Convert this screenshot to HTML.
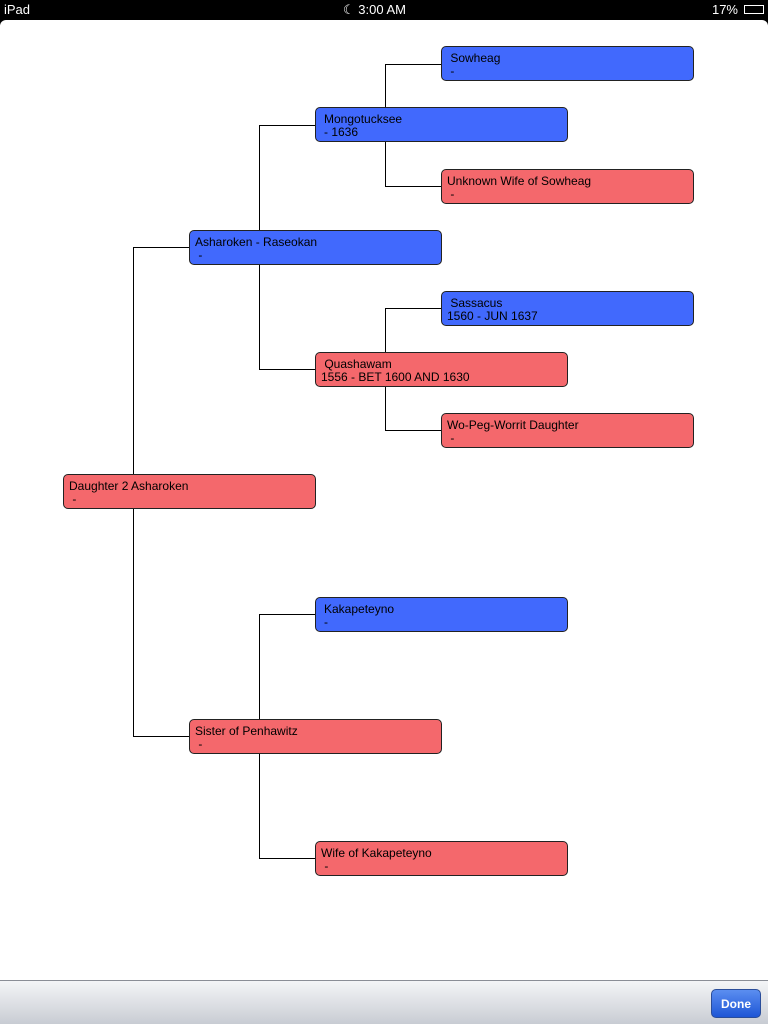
<!DOCTYPE html>
<html><head><meta charset="utf-8"><style>
body{margin:0;width:768px;height:1024px;background:#000;position:relative;overflow:hidden;font-family:"Liberation Sans",sans-serif}
.sb{position:absolute;top:0;left:0;width:768px;height:20px;color:#fff;font-size:13px;line-height:20px}
.main{position:absolute;top:20px;left:0;width:768px;height:960px;background:#fff;border-radius:6px 6px 0 0}
.bar{position:absolute;top:980px;left:0;width:768px;height:44px;background:linear-gradient(#f4f5f7,#c8ccd3);border-top:1px solid #8a8e96;box-sizing:border-box}
.done{position:absolute;right:7px;top:8px;width:50px;height:29px;border-radius:5px;background:linear-gradient(#5b8ef0,#1e56d6);border:1px solid #2a4d9a;color:#fff;font-weight:bold;font-size:12px;text-align:center;line-height:28px;box-sizing:border-box}
.n{position:absolute;width:253px;height:35px;box-sizing:border-box;border:1px solid #222;border-radius:5px;font-size:12px;line-height:13px;padding:5px 0 0 5px;color:#000}
.b{background:#4169fd}.r{background:#f4686c}
.l{position:absolute;background:#000}
</style></head><body>
<div class="sb"><span style="position:absolute;left:4px">iPad</span><span style="position:absolute;left:343px">☾ 3:00 AM</span><span style="position:absolute;right:30px">17%</span><span style="position:absolute;right:4px;top:5px;width:20px;height:9px;border:1px solid #fff;box-sizing:border-box"></span></div>
<div class="main"></div>
<div class="l" style="left:133px;top:247px;width:1px;height:490px"></div>
<div class="l" style="left:133px;top:247px;width:56px;height:1px"></div>
<div class="l" style="left:133px;top:736px;width:56px;height:1px"></div>
<div class="l" style="left:259px;top:125px;width:1px;height:245px"></div>
<div class="l" style="left:259px;top:125px;width:56px;height:1px"></div>
<div class="l" style="left:259px;top:369px;width:56px;height:1px"></div>
<div class="l" style="left:385px;top:64px;width:1px;height:123px"></div>
<div class="l" style="left:385px;top:64px;width:56px;height:1px"></div>
<div class="l" style="left:385px;top:186px;width:56px;height:1px"></div>
<div class="l" style="left:385px;top:308px;width:1px;height:123px"></div>
<div class="l" style="left:385px;top:308px;width:56px;height:1px"></div>
<div class="l" style="left:385px;top:430px;width:56px;height:1px"></div>
<div class="l" style="left:259px;top:614px;width:1px;height:245px"></div>
<div class="l" style="left:259px;top:614px;width:56px;height:1px"></div>
<div class="l" style="left:259px;top:858px;width:56px;height:1px"></div>

<div class="n b" style="left:441px;top:46px">&nbsp;Sowheag<br>&nbsp;-</div>
<div class="n b" style="left:315px;top:107px;padding-left:8px">Mongotucksee<br>- 1636</div>
<div class="n r" style="left:441px;top:169px">Unknown Wife of Sowheag<br>&nbsp;-</div>
<div class="n b" style="left:189px;top:230px">Asharoken - Raseokan<br>&nbsp;-</div>
<div class="n b" style="left:441px;top:291px">&nbsp;Sassacus<br>1560 - JUN 1637</div>
<div class="n r" style="left:315px;top:352px">&nbsp;Quashawam<br>1556 - BET 1600 AND 1630</div>
<div class="n r" style="left:441px;top:413px">Wo-Peg-Worrit Daughter<br>&nbsp;-</div>
<div class="n r" style="left:63px;top:474px">Daughter 2 Asharoken<br>&nbsp;-</div>
<div class="n b" style="left:315px;top:597px;padding-left:8px">Kakapeteyno<br>-</div>
<div class="n r" style="left:189px;top:719px">Sister of Penhawitz<br>&nbsp;-</div>
<div class="n r" style="left:315px;top:841px">Wife of Kakapeteyno<br>&nbsp;-</div>

<div class="bar"><div class="done">Done</div></div>
</body></html>
